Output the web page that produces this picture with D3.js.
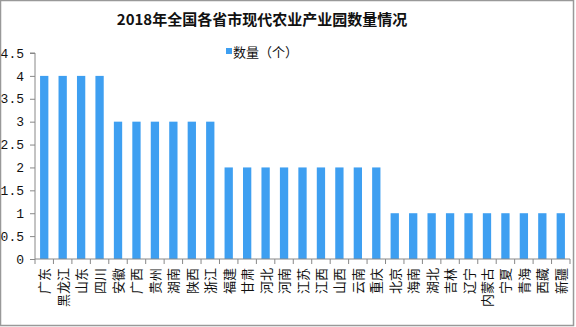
<!DOCTYPE html>
<html>
<head>
<meta charset="utf-8">
<script src="https://cdn.jsdelivr.net/npm/d3@7/dist/d3.min.js"></script>
<style>
  html, body { margin: 0; padding: 0; background: #fff; }
  svg { display: block; }
</style>
</head>
<body>
<svg id="chart" width="576" height="327"></svg>
<script>
// Provinces and their counts of modern agricultural industrial parks (2018)
const provinces = ["广东","黑龙江","山东","四川","安徽","广西","贵州","湖南","陕西","浙江",
  "福建","甘肃","河北","河南","江苏","江西","山西","云南","重庆",
  "北京","海南","湖北","吉林","辽宁","内蒙古","宁夏","青海","西藏","新疆"];
const parkCounts = [4,4,4,4,3,3,3,3,3,3,2,2,2,2,2,2,2,2,2,1,1,1,1,1,1,1,1,1,1];
const yTicks = [0,0.5,1,1.5,2,2.5,3,3.5,4,4.5];
const seriesName = "数量（个）";
const titleText = "2018年全国各省市现代农业产业园数量情况";

const W = 576, H = 327;
const margin = { left: 35, right: 6, top: 53, bottom: 68 };
const svg = d3.select("#chart");
const cjk = "'Noto Sans CJK SC', 'Noto Sans', sans-serif";
const axisColor = "#888";
const barColor = "#3e9ff1";

// outer frame
svg.append("rect").attr("x", 0.5).attr("y", 0.5).attr("width", W - 3).attr("height", H - 2)
  .attr("fill", "#fff").attr("stroke", "#999").attr("stroke-width", 1.5);

const x = d3.scaleBand().domain(provinces).range([margin.left, W - margin.right]).paddingInner(0.55).paddingOuter(0.275);
const y = d3.scaleLinear().domain([0, 4.5]).range([H - margin.bottom, margin.top]);

// title
svg.append("text").attr("x", 262).attr("y", 25).attr("text-anchor", "middle")
  .attr("font-family", cjk).attr("font-weight", "bold").attr("font-size", 15).attr("fill", "#111")
  .text(titleText);

// legend
svg.append("rect").attr("x", 226).attr("y", 48).attr("width", 6).attr("height", 6).attr("fill", barColor);
svg.append("text").attr("x", 233).attr("y", 57).attr("font-family", cjk).attr("font-size", 13).attr("fill", "#111")
  .text(seriesName);

// bars
svg.append("g").selectAll("rect").data(provinces).join("rect")
  .attr("x", d => x(d))
  .attr("width", x.bandwidth())
  .attr("y", (d, i) => y(parkCounts[i]))
  .attr("height", (d, i) => y(0) - y(parkCounts[i]))
  .attr("fill", barColor);

// y axis
const yAxis = svg.append("g").attr("transform", `translate(${margin.left},0)`)
  .call(d3.axisLeft(y).tickValues(yTicks).tickSize(5).tickPadding(6).tickFormat(d => String(d)));
yAxis.select(".domain").attr("stroke", axisColor).attr("d", `M-5,${y(4.5)}H0V${y(0)}`);
yAxis.selectAll(".tick line").attr("stroke", axisColor);
yAxis.selectAll(".tick text").attr("font-family", "'Liberation Mono', 'DejaVu Sans Mono', monospace")
  .attr("font-size", 13).attr("fill", "#111");

// x axis: tick marks sit on band boundaries
const xg = svg.append("g").attr("transform", `translate(0,${y(0)})`);
xg.append("line").attr("x1", margin.left).attr("x2", W - margin.right).attr("stroke", axisColor);
const step = (W - margin.right - margin.left) / provinces.length;
xg.selectAll("line.tk").data(d3.range(provinces.length + 1)).join("line").attr("class", "tk")
  .attr("x1", i => margin.left + i * step)
  .attr("x2", i => margin.left + i * step)
  .attr("y1", 0).attr("y2", 5).attr("stroke", axisColor);

// rotated category labels
xg.selectAll("text").data(provinces).join("text")
  .attr("transform", d => `translate(${x(d) + x.bandwidth() / 2 + 5},9) rotate(-90)`)
  .attr("text-anchor", "end")
  .attr("font-family", cjk).attr("font-size", 13).attr("fill", "#111")
  .text(d => d);
</script>
</body>
</html>
